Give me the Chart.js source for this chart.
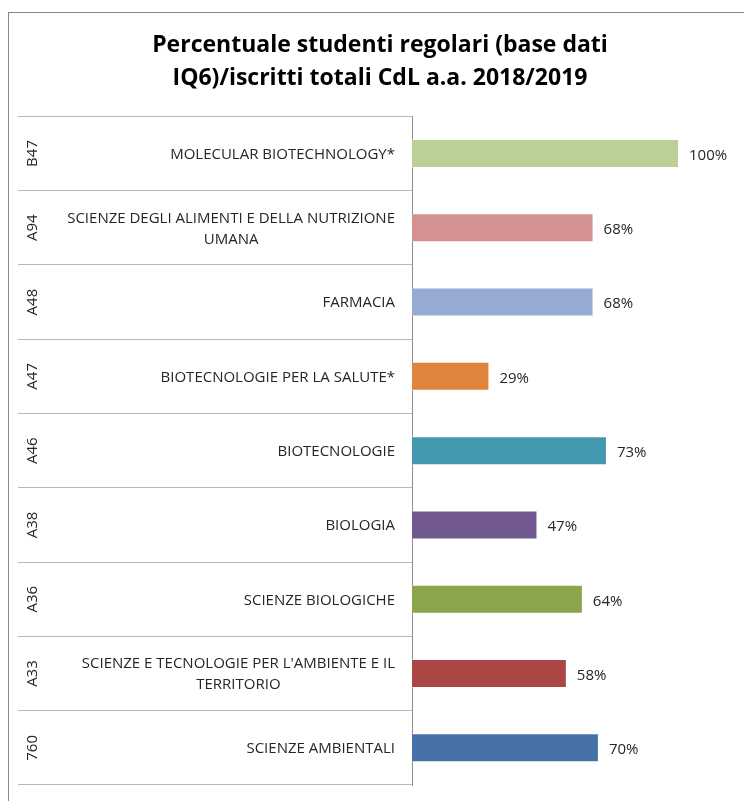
<!DOCTYPE html>
<html>
<head>
<meta charset="utf-8">
<script src="https://cdn.jsdelivr.net/npm/chart.js@4/dist/chart.umd.min.js"></script>
<style>
  html, body { margin: 0; padding: 0; background: #fff; }
  #wrap { width: 744px; height: 801px; }
</style>
</head>
<body>
<div id="wrap"><canvas id="chart" width="744" height="801"></canvas></div>
<script>
// Data (top to bottom)
const titleLines = ['Percentuale studenti regolari (base dati', 'IQ6)/iscritti totali CdL a.a. 2018/2019'];
const courseCodes = ['B47', 'A94', 'A48', 'A47', 'A46', 'A38', 'A36', 'A33', '760'];
const courseNames = [
  ['MOLECULAR BIOTECHNOLOGY*'],
  ['SCIENZE DEGLI ALIMENTI E DELLA NUTRIZIONE', 'UMANA'],
  ['FARMACIA'],
  ['BIOTECNOLOGIE PER LA SALUTE*'],
  ['BIOTECNOLOGIE'],
  ['BIOLOGIA'],
  ['SCIENZE BIOLOGICHE'],
  ["SCIENZE E TECNOLOGIE PER L'AMBIENTE E IL", 'TERRITORIO'],
  ['SCIENZE AMBIENTALI']
];
const percentValues = [100, 68, 68, 29, 73, 47, 64, 58, 70];
const barColors = ['#bbd097', '#d39191', '#95abd3', '#de843b', '#4298ae', '#715990', '#8aa64d', '#aa4745', '#4672a8'];

const LABEL_FONT = '15px "Open Sans", sans-serif';
const TEXT_COLOR = '#262626';

// outer frame of the chart object (right and bottom run off the picture)
const framePlugin = {
  id: 'frame',
  beforeDraw(chart) {
    const ctx = chart.ctx;
    ctx.save();
    ctx.strokeStyle = '#8a8a8a';
    ctx.lineWidth = 1;
    ctx.strokeRect(8.5, 12.5, 800, 900);
    ctx.restore();
  }
};

// category labels (code column + name column) and value labels
const labelPlugin = {
  id: 'labels',
  afterDraw(chart) {
    const ctx = chart.ctx;
    const yScale = chart.scales.y;
    const xScale = chart.scales.x;
    ctx.save();
    ctx.font = LABEL_FONT;
    ctx.fillStyle = TEXT_COLOR;

    courseCodes.forEach((code, i) => {
      const yc = yScale.getPixelForValue(i);

      // rotated code
      ctx.save();
      ctx.translate(33, yc);
      ctx.rotate(-Math.PI / 2);
      ctx.textAlign = 'center';
      ctx.textBaseline = 'middle';
      ctx.fillText(code, 0, 0);
      ctx.restore();

      // course name, block right-aligned, lines centered inside the block
      const lines = courseNames[i];
      const lineH = 21;
      const blockW = Math.max(...lines.map(l => ctx.measureText(l).width));
      const right = 395;
      ctx.textAlign = 'center';
      ctx.textBaseline = 'middle';
      lines.forEach((line, k) => {
        const y = yc + 1 + (k - (lines.length - 1) / 2) * lineH;
        ctx.fillText(line, right - blockW / 2, y);
      });

      // value label
      ctx.textAlign = 'left';
      ctx.fillText(percentValues[i] + '%', xScale.getPixelForValue(percentValues[i]) + 10, yc + 2);
    });
    ctx.restore();
  }
};

new Chart(document.getElementById('chart'), {
  type: 'bar',
  data: {
    labels: courseCodes,
    datasets: [{
      data: percentValues,
      backgroundColor: barColors,
      borderColor: 'rgba(255,255,255,0.45)',
      borderWidth: 1,
      categoryPercentage: 1,
      barPercentage: 0.39
    }]
  },
  options: {
    indexAxis: 'y',
    responsive: false,
    animation: false,
    layout: { padding: { left: 18, right: 2, top: 0, bottom: 16 } },
    scales: {
      x: { display: false, min: 0, max: 123.6 },
      y: {
        display: true,
        ticks: { display: false },
        grid: {
          drawOnChartArea: false,
          offset: true,
          tickLength: 394,
          color: '#b8b8b8',
          lineWidth: 1
        },
        border: { display: true, color: '#8e8e8e', width: 1 }
      }
    },
    plugins: {
      legend: { display: false },
      tooltip: { enabled: false },
      title: {
        display: true,
        text: titleLines,
        color: '#000',
        font: { family: '"Open Sans", sans-serif', size: 23, weight: 'bold', lineHeight: 1.42 },
        padding: { top: 29, bottom: 22 }
      }
    }
  },
  plugins: [framePlugin, labelPlugin]
});
</script>
</body>
</html>
